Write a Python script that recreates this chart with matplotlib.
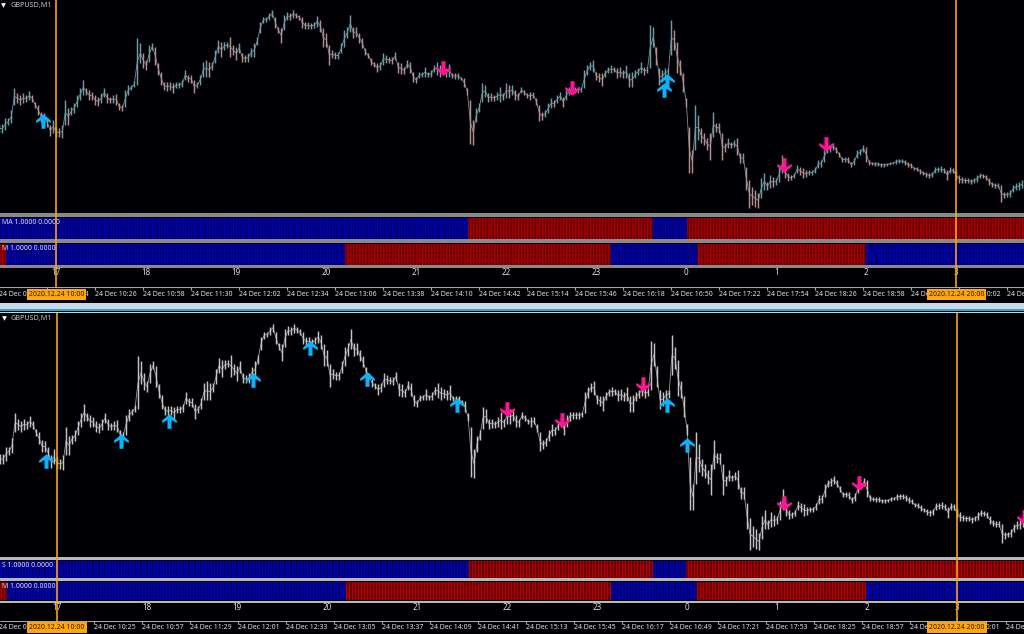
import numpy as np
import matplotlib
matplotlib.use("Agg")
import matplotlib.pyplot as plt
from matplotlib.path import Path

W, H = 1024, 634
plt.rcParams['font.family'] = ['Noto Sans', 'DejaVu Sans']

price_top = [124,124,118,118,110,88,93,95,93,95,
    91,95,102,105,112,113,118,125,120,127,
    128,125,100,108,107,103,95,88,80,88,
    90,92,95,97,93,88,93,97,95,94,
    103,105,90,85,85,81,38,43,53,60,
    45,43,47,63,72,82,82,82,83,82,
    82,80,70,75,75,80,82,75,62,60,
    62,62,50,40,42,42,42,37,45,47,
    43,53,55,53,48,43,37,22,17,17,
    13,10,17,27,28,15,12,13,10,13,
    15,17,22,22,23,22,16,20,28,33,
    45,50,52,52,43,30,27,15,27,27,
    33,38,48,53,58,62,63,62,53,55,
    57,57,52,62,63,67,60,62,72,77,
    72,72,67,72,70,65,62,65,67,68,
    64,73,73,73,77,78,88,100,120,108,
    103,83,85,93,93,95,92,87,93,83,
    85,85,90,93,87,90,93,92,92,98,
    105,112,110,103,98,100,95,92,97,90,
    87,87,87,87,87,70,65,62,60,72,
    73,73,70,67,65,67,68,67,70,65,
    73,72,70,68,62,67,67,25,27,47,
    68,70,68,68,20,30,42,60,73,98,
    127,150,105,115,128,133,138,133,112,123,
    123,133,143,138,142,140,138,153,153,167,
    180,187,190,193,178,173,182,175,177,178,
    165,155,167,173,175,173,165,167,168,170,
    170,170,167,160,160,150,147,145,143,147,
    152,157,157,157,162,158,150,149,145,147,
    160,162,162,162,163,163,163,162,162,159,
    159,159,160,162,163,167,167,169,171,172,
    173,172,167,167,166,168,170,167,168,171,
    175,177,178,178,179,178,175,173,174,175,
    178,182,183,183,185,192,192,190,185,183,
    182,180]
price_bottom = [133,133,130,125,123,105,103,105,103,102,
    100,102,108,115,122,122,127,136,133,137,
    137,138,125,125,115,113,107,100,95,95,
    100,100,105,106,103,97,103,103,103,105,
    110,111,107,95,90,87,85,63,68,70,
    62,50,65,75,85,90,91,90,93,88,
    88,87,80,82,83,93,88,85,77,77,
    77,70,63,53,57,50,48,57,55,60,
    53,62,62,62,57,57,45,33,23,22,
    20,17,28,33,43,30,20,20,18,18,
    20,28,29,29,29,28,27,32,47,47,
    65,58,59,59,53,47,38,32,38,37,
    43,48,55,58,65,67,72,70,65,63,
    63,64,60,73,74,74,68,73,82,83,
    78,77,77,77,77,72,75,77,75,77,
    77,78,79,79,80,87,95,144,145,122,
    112,102,97,102,101,101,100,102,100,98,
    98,95,100,100,93,95,98,100,98,105,
    121,120,117,113,108,107,103,100,107,100,
    95,93,93,93,92,88,75,70,72,80,
    82,86,77,73,73,72,78,77,78,78,
    87,87,78,75,73,75,73,68,47,65,
    85,82,77,75,55,50,73,75,92,107,
    173,173,150,140,143,145,150,160,137,132,
    133,160,152,148,148,147,155,163,163,190,
    208,205,207,208,198,190,190,188,187,185,
    182,173,178,181,180,178,173,175,178,177,
    175,175,173,168,167,162,153,152,150,153,
    157,162,162,163,167,165,158,155,152,162,
    165,165,166,166,167,167,166,165,164,164,
    163,163,165,167,168,170,171,174,175,177,
    178,177,173,172,172,173,180,173,173,180,
    183,183,183,183,184,183,182,178,178,180,
    185,187,188,188,202,198,197,197,192,190,
    190,188]

# signal arrows (minute from chart start, level)
top_up_min = [29, 443, 445]
top_up_lvl = [121, 90, 81]
top_down_min = [296, 382, 523, 551]
top_down_lvl = [68, 88, 165, 144]
low_up_min = [31, 81, 113, 169, 207, 245, 305, 445, 458]
low_up_lvl = [130, 113, 95, 59, 31, 58, 81, 81, 116]
low_down_min = [338, 375, 429, 523, 573, 683]
low_down_lvl = [85, 94, 63, 167, 149, 179]

# indicator strips: run lengths in minutes, 1 = blue 0 = red
ma_runs = [(1, 313), (0, 123), (1, 23), (0, 225)]
m_runs = [(0, 5), (1, 226), (0, 177), (1, 58), (0, 112), (1, 106)]
s_runs = [(1, 313), (0, 123), (1, 22), (0, 225)]
m2_runs = [(0, 5), (1, 226), (0, 177), (1, 57), (0, 113), (1, 105)]

hour_labels = ['17', '18', '19', '20', '21', '22', '23', '0', '1', '2', '3']
hour_min = [38, 98, 158, 218, 278, 338, 398, 458, 518, 578, 638]
top_times = ['09:22', '09:54', '10:26', '10:58', '11:30', '12:02', '12:34', '13:06', '13:38', '14:10', '14:42',
             '15:14', '15:46', '16:18', '16:50', '17:22', '17:54', '18:26', '18:58', '19:30', '20:02', '20:34']
low_times = ['09:21', '09:53', '10:25', '10:57', '11:29', '12:01', '12:33', '13:05', '13:37', '14:09', '14:41',
             '15:13', '15:45', '16:17', '16:49', '17:21', '17:53', '18:25', '18:57', '19:29', '20:01', '20:33']
cursor_min = [38, 638]
cursor_text = ['2020.12.24 10:00', '2020.12.24 20:00']

BG = '#000004'
UP = '#6d9ca6'
DOWN = '#b48e90'
GREY = '#c4c4c4'
ORANGE = '#f7a416'
CYAN = '#0cb2f5'
PINK = '#ff1493'
BLUE = '#0000b8'
RED = '#b40000'
TXT = '#e0e0e0'

up_verts = [(0, 1), (1, 0.15), (1, -0.22), (0.28, 0.2), (0.28, -1), (-0.28, -1), (-0.28, 0.2), (-1, -0.22), (-1, 0.15), (0, 1)]
up_arrow = Path(up_verts, closed=True)
down_arrow = Path([(x, -y) for x, y in up_verts], closed=True)

fig = plt.figure(figsize=(W / 100, H / 100), dpi=100, facecolor=BG)


def panel(y0, y1, xlim, ylim=(1, 0)):
    # axes placed by pixel rows
    ax = fig.add_axes([0, 1 - y1 / H, 1, (y1 - y0) / H])
    ax.set_xlim(*xlim)
    ax.set_ylim(*ylim)
    ax.set_axis_off()
    return ax


def draw_price(ax, top_style):
    mins = np.arange(len(price_top)) * 2
    hi = np.array(price_top)
    lo = np.array(price_bottom)
    mid = (hi + lo) / 2
    if top_style:
        rising = np.r_[True, mid[1:] <= mid[:-1]]
        cols = [UP if r else DOWN for r in rising]
        ax.plot(mins, mid, color='#7f8f94', linewidth=0.6)
    else:
        cols = GREY
        ax.plot(mins, mid, color='#9a9a9a', linewidth=0.6)
    ax.vlines(mins, hi, lo, colors=cols, linewidth=1.05)


def draw_arrows(ax, up_m, up_l, down_m, down_l):
    ax.plot(up_m, up_l, ls='none', marker=up_arrow, ms=10.5, color=CYAN, mew=0, zorder=5)
    ax.plot(down_m, down_l, ls='none', marker=down_arrow, ms=10.5, color=PINK, mew=0, zorder=5)


def draw_strip(ax, runs, label, label_px):
    state = np.concatenate([[s] * n for s, n in runs])
    cols = [BLUE if s else RED for s in state]
    ax.set_facecolor('#000010')
    ax.set_axis_on()
    ax.set_xticks([])
    ax.set_yticks([])
    for sp in ax.spines.values():
        sp.set_visible(False)
    bars = ax.bar(np.arange(len(state)), 1, width=0.78, bottom=0, color=cols, linewidth=0)
    for b in bars:
        b.set_snap(False)
    h = ax.get_window_extent().height
    ax.text(0.002, 1 - label_px / h, label, transform=ax.transAxes, color=TXT, fontsize=5, va='center', ha='left', zorder=6)


def draw_times(ax, ticks, labels):
    ax.hlines(0, 0, 700, color='#a8a8a8', linewidth=0.8)
    ax.vlines(ticks, 0, 3, color='#a8a8a8', linewidth=0.8)
    for t, lab in zip(ticks, labels):
        ax.text(t, 7.2, '24 Dec ' + lab, color=TXT, fontsize=5, va='center', ha='left', clip_on=True)
    for c, lab in zip(cursor_min, cursor_text):
        ax.text(c, 7.3, lab, color='#2a1a00', fontsize=5, va='center', ha='center', zorder=4,
                bbox=dict(boxstyle='square,pad=0.3', fc='#ffa60c', ec='#ffa60c', lw=0))


top_x = (0.467, 683.1)
low_x = (0, 682.67)

# top chart
ax1 = panel(0, 213, top_x, (213, 0))
draw_price(ax1, True)
draw_arrows(ax1, top_up_min, top_up_lvl, top_down_min, top_down_lvl)
ax1.text(0.0105, 0.976, 'GBPUSD,M1', transform=ax1.transAxes, color='#c8c8c8', fontsize=5.2, va='center')
ax1.plot([2.7], [5], ls='none', marker='v', ms=3.4, color='white', mew=0)

draw_strip(panel(218, 239, top_x), ma_runs, 'MA 1.0000 0.0000', 4.5)
draw_strip(panel(244, 265, top_x), m_runs, 'M 1.0000 0.0000', 4.5)

ax_h1 = panel(267, 287, top_x, (20, 0))
for m, lab in zip(hour_min, hour_labels):
    ax_h1.text(m, 5, lab, color=TXT, fontsize=5.8, ha='center', va='center')

ax_t1 = panel(287, 303, top_x, (16, 0))
draw_times(ax_t1, np.arange(len(top_times)) * 32, top_times)

# bottom chart
ax2 = panel(313, 556, low_x, (213.2, 0.63))
draw_price(ax2, False)
draw_arrows(ax2, low_up_min, low_up_lvl, low_down_min, low_down_lvl)
ax2.text(0.0105, 0.979, 'GBPUSD,M1', transform=ax2.transAxes, color='#c8c8c8', fontsize=5.2, va='center')
ax2.plot([2.7], [5], ls='none', marker='v', ms=3.4, color='white', mew=0)

draw_strip(panel(561, 578, low_x), s_runs, 'S 1.0000 0.0000', 4.5)
draw_strip(panel(582, 600, low_x), m2_runs, 'M 1.0000 0.0000', 4.5)

ax_h2 = panel(603, 620, low_x, (17, 0))
for m, lab in zip(hour_min, hour_labels):
    ax_h2.text(m, 4.7, lab, color=TXT, fontsize=5.8, ha='center', va='center')

ax_t2 = panel(620.5, 634, low_x, (13.5, 0))
draw_times(ax_t2, np.arange(len(low_times)) * 32 - 1, low_times)

# window frame, separators and scroll strip in pixel rows
frame = panel(0, H, (0, W), (H, 0))
frame.set_zorder(8)
frame.patch.set_alpha(0)
for y0, y1, c in [(213, 216.5, '#8a8a8a'), (239, 242.5, '#8a8a8a'), (265, 267.5, '#8a8a8a'),
                  (557, 559.5, '#b8b8b8'), (578, 580.5, '#b8b8b8'), (600.5, 602.5, '#b8b8b8'),
                  (303, 309, '#c9d9ec'), (309, 310.5, '#3aa4c2'), (311.8, 312.8, '#d0d0d0')]:
    frame.fill_between([0, W], y0, y1, color=c, linewidth=0)

# cursor lines drawn over the strips
ax_c1 = panel(0, 287, top_x, (1, 0))
ax_c2 = panel(313, 620.5, low_x, (1, 0))
for ax in (ax_c1, ax_c2):
    ax.set_zorder(9)
    ax.patch.set_alpha(0)
    for c in cursor_min:
        ax.axvline(c, color=ORANGE, linewidth=1.2)

fig.savefig('out.png', dpi=100, facecolor=BG)
